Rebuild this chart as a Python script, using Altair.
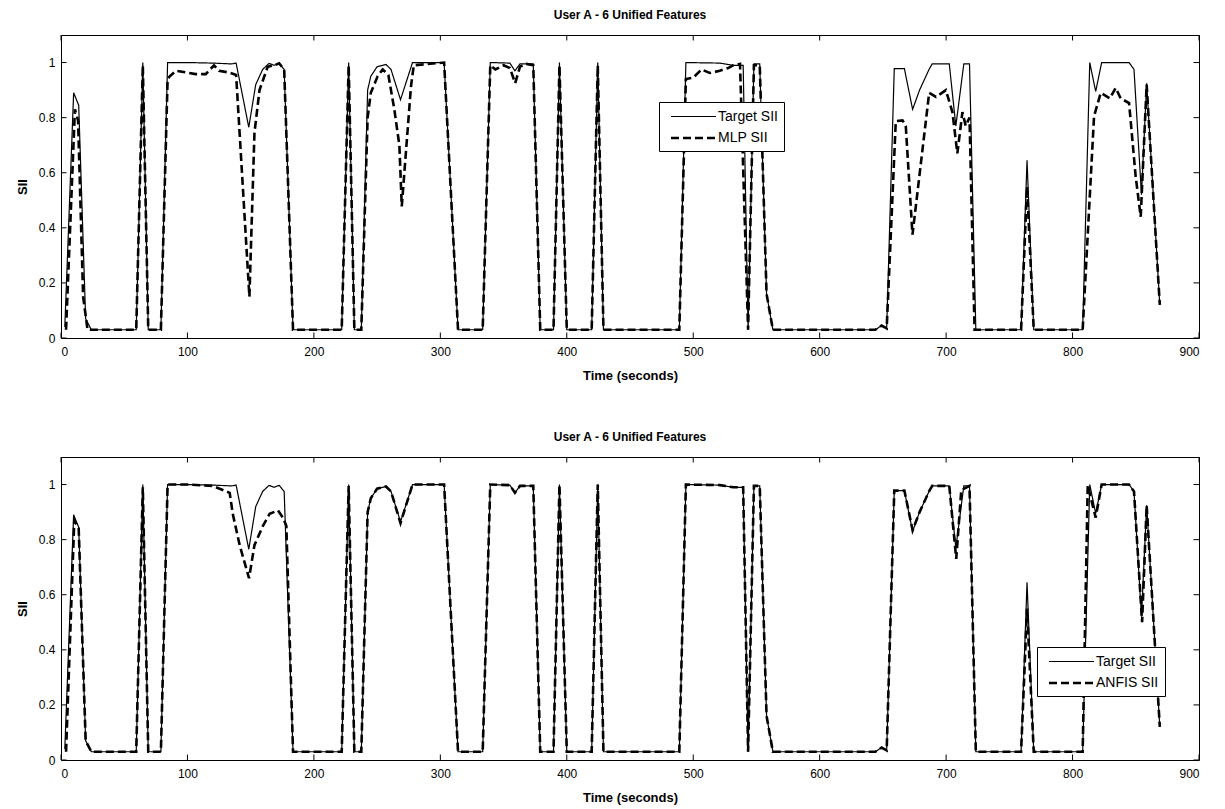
import altair as alt
import pandas as pd

FONT = "Liberation Sans"
TITLE = "User A - 6 Unified Features"

X_TICKS = [0, 100, 200, 300, 400, 500, 600, 700, 800, 900]
Y_TICKS = [0, 0.2, 0.4, 0.6, 0.8, 1.0]

TARGET_T = [3, 10, 14, 19.5, 24, 59.5, 64.7, 69, 79, 84.3,
            100, 120, 135, 138.5, 148.5, 154, 159.5, 164.5, 168.5, 172.5,
            176.5, 183.5, 222, 227.5, 232, 237.5, 242.5, 245, 250, 257,
            261, 268.5, 278, 303, 314, 333.5, 339.5, 355, 359, 363,
            373.5, 379, 389.5, 394.2, 400, 419.7, 424.5, 429, 489, 494.2,
            521, 531.6, 539.5, 543.4, 548, 552.6, 558, 563, 644, 649,
            653, 659, 667, 673.5, 679, 686.5, 689, 702.5, 707.7, 714,
            718.5, 723.5, 759.3, 764, 769.3, 808, 813.6, 818.3, 823, 844.7,
            848.6, 854.5, 858.6, 869]
TARGET_V = [0.04, 0.89, 0.845, 0.07, 0.03, 0.03, 1.0, 0.03, 0.03, 1.0,
            1.0, 0.998, 0.995, 0.998, 0.765, 0.92, 0.975, 0.997, 0.99, 0.997,
            0.975, 0.03, 0.03, 1.0, 0.03, 0.03, 0.9, 0.95, 0.985, 0.993,
            0.975, 0.865, 1.0, 1.0, 0.03, 0.03, 1.0, 0.998, 0.97, 0.995,
            0.995, 0.03, 0.03, 1.0, 0.03, 0.03, 1.0, 0.03, 0.03, 1.0,
            0.998, 0.99, 0.99, 0.03, 0.995, 0.995, 0.16, 0.03, 0.03, 0.045,
            0.035, 0.978, 0.978, 0.83, 0.9, 0.975, 0.995, 0.995, 0.77, 0.995,
            0.995, 0.03, 0.03, 0.645, 0.03, 0.03, 1.0, 0.895, 1.0, 1.0,
            0.975, 0.52, 0.925, 0.12]

MLP_T = [4, 11, 13.5, 17.5, 21, 59.5, 64.7, 69, 79, 84.3,
         86, 91, 99, 106.5, 114.5, 121, 125, 132.7, 138.5, 149,
         153, 157, 163.5, 168.5, 172.5, 176.5, 183.5, 222, 227.5, 232,
         237.5, 242.5, 245, 250.4, 254.4, 258.9, 263.6, 267.6, 269.5, 276.8,
         279, 303, 314, 333.5, 339.5, 343.5, 350, 355, 359.2, 363,
         368, 373.5, 379, 389.5, 394.2, 400, 419.7, 424.5, 429, 489,
         494.2, 500, 506.6, 513, 521, 527.6, 531.6, 537, 543.4, 548,
         552.6, 558, 563, 644, 649, 653, 660.2, 665.5, 668.1, 673.4,
         686.6, 692, 699.8, 705, 708.9, 712.9, 715.5, 718.5, 722.5, 759.3,
         764, 769.3, 808, 817, 822.3, 829.5, 834.1, 838, 844.7, 849.9,
         853.9, 858.6, 869]
MLP_V = [0.03, 0.83, 0.79, 0.15, 0.03, 0.03, 0.99, 0.03, 0.03, 0.94,
         0.95, 0.97, 0.964, 0.958, 0.958, 0.99, 0.97, 0.964, 0.955, 0.15,
         0.745, 0.9, 0.985, 0.99, 0.997, 0.975, 0.03, 0.03, 0.99, 0.03,
         0.03, 0.8, 0.89, 0.95, 0.975, 0.955, 0.83, 0.70, 0.478, 0.914,
         0.99, 1.0, 0.03, 0.03, 0.99, 0.975, 0.99, 0.98, 0.925, 0.985,
         0.995, 0.99, 0.03, 0.03, 0.99, 0.03, 0.03, 0.99, 0.03, 0.03,
         0.94, 0.945, 0.975, 0.962, 0.97, 0.98, 0.99, 0.995, 0.03, 0.99,
         0.99, 0.16, 0.03, 0.03, 0.045, 0.035, 0.787, 0.79, 0.77, 0.375,
         0.89, 0.875, 0.90, 0.82, 0.67, 0.82, 0.77, 0.80, 0.03, 0.03,
         0.55, 0.03, 0.03, 0.805, 0.89, 0.87, 0.908, 0.87, 0.853, 0.587,
         0.44, 0.92, 0.12]

ANFIS_T = [4, 10.5, 14, 19.5, 24, 59.5, 64.7, 69, 79, 84.3,
           100, 120, 133.4, 136, 141.3, 148.7, 153, 159.7, 165, 171.6,
           175.5, 178.2, 183.5, 222, 227.5, 232, 237.5, 242.5, 245, 250,
           257, 261, 268.5, 278, 303, 314, 333.5, 339.5, 355, 359,
           363, 373.5, 379, 389.5, 394.2, 400, 419.7, 424.5, 429, 489,
           494.2, 521, 531.6, 539.5, 543.4, 548, 552.6, 558, 563, 644,
           649, 653, 659, 667, 673.5, 679, 686.5, 689, 702.5, 708,
           712, 718.5, 723.5, 759.3, 764, 769.3, 808, 812, 818.3, 823,
           844.7, 848.6, 855, 858.6, 869]
ANFIS_V = [0.03, 0.87, 0.84, 0.07, 0.03, 0.03, 0.99, 0.03, 0.03, 1.0,
           1.0, 0.995, 0.97, 0.89, 0.78, 0.66, 0.78, 0.85, 0.894, 0.906,
           0.88, 0.85, 0.03, 0.03, 0.995, 0.03, 0.03, 0.9, 0.95, 0.985,
           0.993, 0.975, 0.86, 1.0, 1.0, 0.03, 0.03, 1.0, 0.998, 0.97,
           0.995, 0.995, 0.03, 0.03, 1.0, 0.03, 0.03, 1.0, 0.03, 0.03,
           1.0, 0.998, 0.99, 0.99, 0.03, 0.995, 0.995, 0.16, 0.03, 0.03,
           0.045, 0.035, 0.978, 0.978, 0.834, 0.9, 0.975, 0.995, 0.995, 0.73,
           0.98, 0.995, 0.03, 0.03, 0.55, 0.03, 0.03, 0.997, 0.88, 1.0,
           1.0, 0.975, 0.5, 0.924, 0.12]

W, H = 1138, 303
X_MAX, Y_MAX = 900, 1.1


def panel(pred_name, pred_t, pred_v, leg_x, leg_y):
    domain = ["Target SII", pred_name]
    tgt = pd.DataFrame({"t": TARGET_T, "v": TARGET_V, "series": "Target SII"})
    prd = pd.DataFrame({"t": pred_t, "v": pred_v, "series": pred_name})

    legend = alt.Legend(
        title=None, orient="none", legendX=leg_x, legendY=leg_y,
        strokeColor="black", fillColor="white", padding=6, cornerRadius=0,
        symbolType="M-0.4,0H5.6", symbolSize=225, symbolStrokeColor="black",
        labelFont=FONT, labelFontSize=14, labelColor="black", labelOffset=35,
        rowPadding=5,
    )
    xenc = alt.X("t:Q", scale=alt.Scale(domain=[0, X_MAX], nice=False, zero=False),
                 axis=alt.Axis(values=X_TICKS, title="Time (seconds)"))
    yenc = alt.Y("v:Q", scale=alt.Scale(domain=[0, Y_MAX], nice=False),
                 axis=alt.Axis(values=Y_TICKS, title="SII", format="~g"))
    dash = alt.StrokeDash("series:N", scale=alt.Scale(domain=domain, range=[[1, 0], [8, 4]]),
                          legend=legend)
    sw = alt.StrokeWidth("series:N",
                         scale=alt.Scale(type="point", domain=domain, range=[1.2, 2.6], padding=0),
                         legend=legend)

    l_tgt = alt.Chart(tgt).mark_line(color="black").encode(x=xenc, y=yenc, strokeDash=dash, strokeWidth=sw)
    l_prd = alt.Chart(prd).mark_line(color="black").encode(x=xenc, y=yenc, strokeDash=dash, strokeWidth=sw)

    xt = pd.DataFrame({"t": X_TICKS})
    yt = pd.DataFrame({"v": Y_TICKS})
    tx = 5.5 / H * Y_MAX
    ty = 5.5 / W * X_MAX
    ticks = [
        alt.Chart(xt).mark_rule(color="black").encode(x=xenc, y=alt.datum(0), y2=alt.datum(tx)),
        alt.Chart(xt).mark_rule(color="black").encode(x=xenc, y=alt.datum(Y_MAX), y2=alt.datum(Y_MAX - tx)),
        alt.Chart(yt).mark_rule(color="black").encode(y=yenc, x=alt.datum(0), x2=alt.datum(ty)),
        alt.Chart(yt).mark_rule(color="black").encode(y=yenc, x=alt.datum(X_MAX), x2=alt.datum(X_MAX - ty)),
    ]
    return alt.layer(l_tgt, l_prd, *ticks).properties(
        width=W, height=H,
        title=alt.TitleParams(TITLE, font=FONT, fontSize=12, fontWeight="bold", color="black", offset=13),
    )


top = panel("MLP SII", MLP_T, MLP_V, 598, 67)
bottom = panel("ANFIS SII", ANFIS_T, ANFIS_V, 976, 190)

chart = alt.vconcat(top, bottom, spacing=47).resolve_scale(
    strokeDash="independent", strokeWidth="independent"
).resolve_legend(
    strokeDash="independent", strokeWidth="independent"
).properties(
    padding={"left": 7, "top": 0, "right": 5, "bottom": 2}
).configure_view(
    stroke="black", strokeWidth=1
).configure_axis(
    grid=False, domain=False, ticks=False, labelFont=FONT, labelFontSize=12, labelColor="black",
    titleFont=FONT, titleFontSize=13, titleFontWeight="bold", titleColor="black",
).configure_axisX(
    labelPadding=8, titlePadding=12
).configure_axisY(
    labelPadding=6, titlePadding=9
)

chart.save("out.html", embed_options={"renderer": "svg", "actions": False})
